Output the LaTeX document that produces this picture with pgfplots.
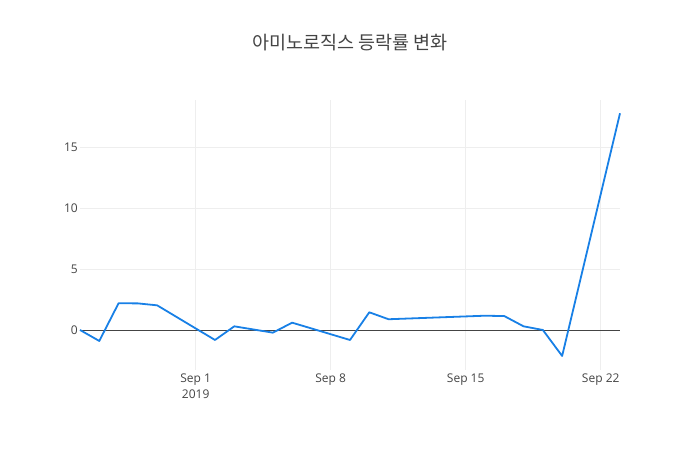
\documentclass[border=0pt]{standalone}
\usepackage{fontspec}
\setmainfont{Open Sans}
\newfontfamily\cjk{Noto Sans CJK KR}
\usepackage{pgfplots}
\pgfplotsset{compat=1.18}

\definecolor{textgrey}{HTML}{444444}
\definecolor{gridgrey}{HTML}{EEEEEE}
\definecolor{lineblue}{RGB}{24,128,230}

\begin{document}
\begin{tikzpicture}
  % page 700 x 450 (1 px = 1 pt)
  \path (0pt,0pt) rectangle (700pt,450pt);
  \node[text=textgrey, font=\cjk\fontsize{18.5}{20}\selectfont] at (350pt,407pt) {아미노로직스 등락률 변화};

  \begin{axis}[
      at={(80pt,80pt)}, anchor=south west,
      scale only axis,
      width=540pt, height=270pt,
      xmin=-6, xmax=22,
      ymin=-3.28, ymax=18.85,
      axis line style={draw=none},
      major tick length=0pt,
      xtick={0,7,14,21},
      xticklabels={{Sep 1\\2019},{Sep 8},{Sep 15},{Sep 22}},
      ytick={0,5,10,15},
      grid=major,
      major grid style={gridgrey, line width=0.8pt},
      /pgf/number format/assume math mode=true,
      tick label style={text=textgrey, font=\fontsize{12}{16}\selectfont},
      xticklabel style={align=center, anchor=north, inner sep=0pt, yshift=-4pt},
      yticklabel style={anchor=east, inner sep=0pt, xshift=-2pt},
      clip=false,
    ]
    % zero line
    \addplot[color=textgrey, line width=0.9pt] coordinates {(-6,0) (22,0)};

    % daily change (%), x = days from Sep 1, 2019
    \addplot[color=lineblue, line width=1.8pt, line join=round] table {
      x    y
      -6   0.00
      -5  -0.90
      -4   2.19
      -3   2.18
      -2   2.02
       1  -0.82
       2   0.30
       4  -0.22
       5   0.60
       8  -0.82
       9   1.45
      10   0.88
      15   1.17
      16   1.14
      17   0.30
      18   0.00
      19  -2.13
      22  17.76
    };
  \end{axis}
\end{tikzpicture}
\end{document}
